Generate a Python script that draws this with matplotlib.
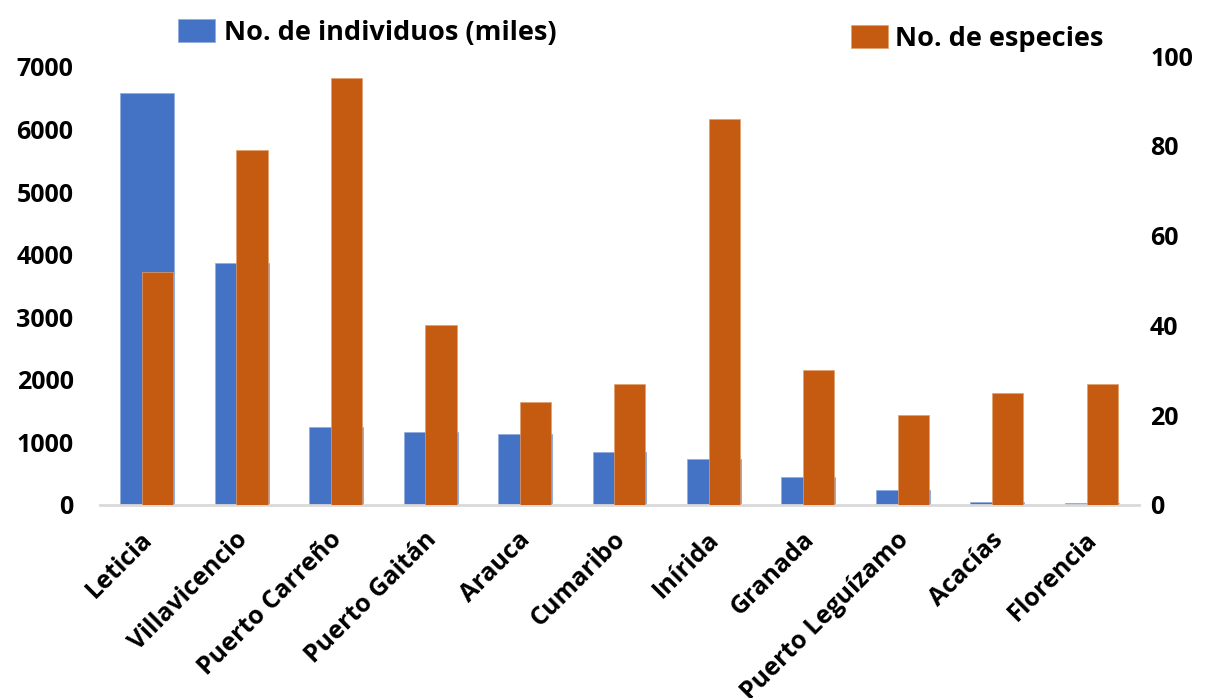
import matplotlib
matplotlib.use("Agg")
import matplotlib.pyplot as plt
import matplotlib.transforms as mtransforms
import numpy as np

plt.rcParams['font.family'] = ['Open Sans', 'DejaVu Sans']
plt.rcParams['font.weight'] = 'bold'

ciudades = ['Leticia', 'Villavicencio', 'Puerto Carreño', 'Puerto Gaitán', 'Arauca',
            'Cumaribo', 'Inírida', 'Granada', 'Puerto Leguízamo', 'Acacías', 'Florencia']
individuos = [6580, 3860, 1240, 1160, 1130, 840, 730, 440, 240, 40, 30]
especies = [52, 79, 95, 40, 23, 27, 86, 30, 20, 25, 27]

azul = '#4472C4'
naranja = '#C55A11'

fig = plt.figure(figsize=(12.05, 6.98), dpi=100)
ax = fig.add_axes([100/1205, 1 - 505/698, 1039/1205, 449/698])
ax2 = ax.twinx()

x = np.arange(len(ciudades))
b1 = ax.bar(x, individuos, width=0.57, color=azul, edgecolor='#8FAADC', linewidth=0.5)
b2 = ax2.bar(x + 0.11, especies, width=0.33, color=naranja, edgecolor='#E0A070', linewidth=0.5)

ax.set_xlim(-0.5, len(ciudades) - 0.5)
ax.set_ylim(0, 7173)
ax2.set_ylim(0, 100)
ax.set_yticks(range(0, 7001, 1000))
ax2.set_yticks(range(0, 101, 20))

for a in (ax, ax2):
    for s in a.spines.values():
        s.set_visible(False)
    a.tick_params(length=0, labelsize=18)
ax.spines['bottom'].set_visible(True)
ax.spines['bottom'].set_color('#D9D9D9')
ax.spines['bottom'].set_linewidth(2)
ax.tick_params(axis='y', pad=19)
ax2.tick_params(axis='y', pad=8)

ax.set_xticks(x)
ax.set_xticklabels(ciudades, rotation=45, ha='right', va='top', rotation_mode='anchor', fontsize=18)
ax.tick_params(axis='x', pad=16)
# shift the rotated names a little to the left
desp = mtransforms.ScaledTranslation(-7/100, 0, fig.dpi_scale_trans)
for lab in ax.get_xticklabels():
    lab.set_transform(lab.get_transform() + desp)

fig.legend([b1], ['No. de individuos (miles)'], loc='upper left', bbox_to_anchor=(154/1205, 1.008),
           frameon=False, fontsize=19.5, handlelength=1.35, handleheight=0.95, handletextpad=0.35)
fig.legend([b2], ['No. de especies'], loc='upper left', bbox_to_anchor=(827/1205, 0.999),
           frameon=False, fontsize=19.5, handlelength=1.35, handleheight=0.95, handletextpad=0.25)

fig.savefig('out.png', dpi=100)
